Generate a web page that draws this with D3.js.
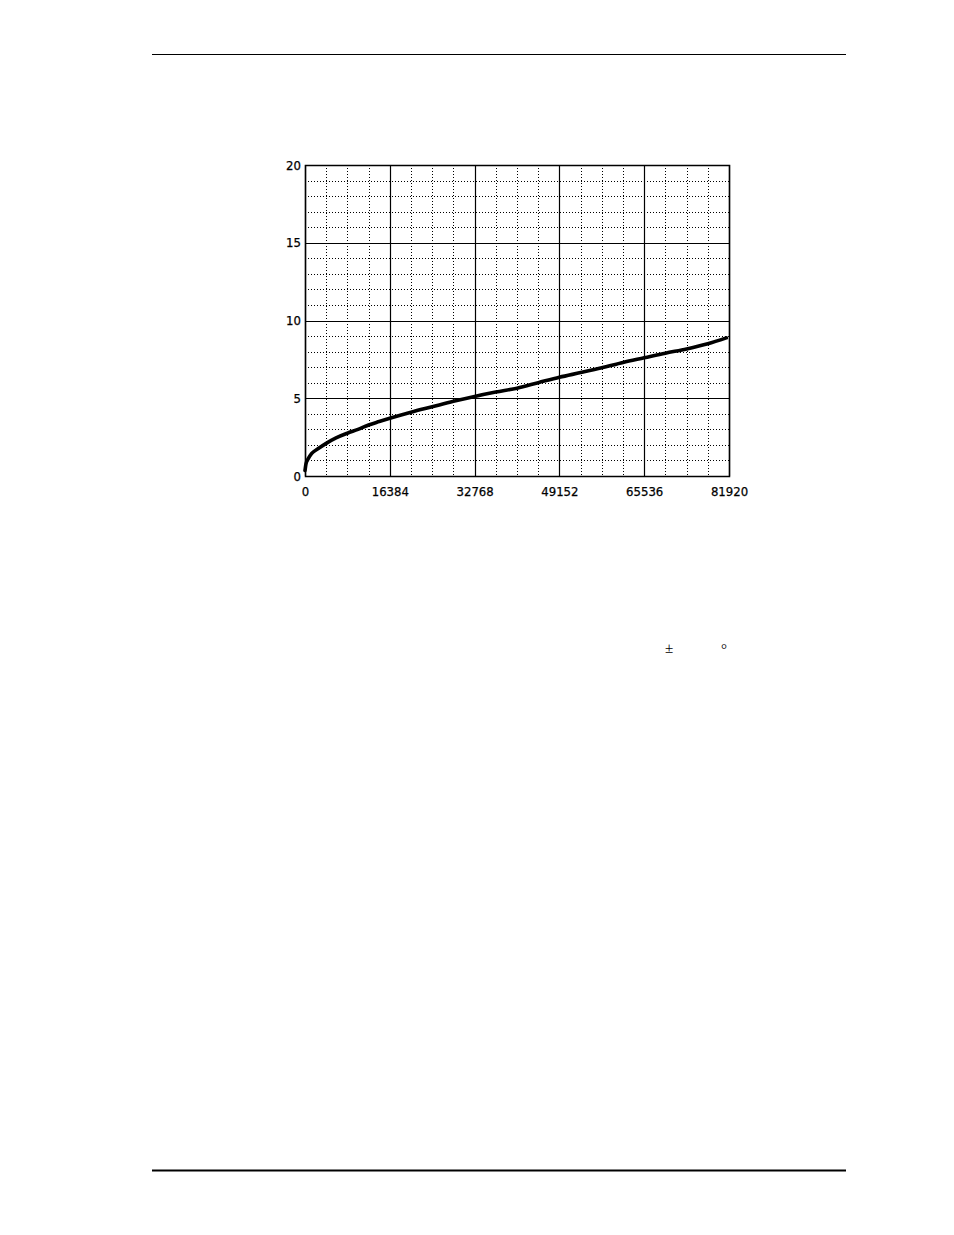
<!DOCTYPE html>
<html>
<head>
<meta charset="utf-8">
<script src="https://cdn.jsdelivr.net/npm/d3@7"></script>
<style>
  body { margin: 0; background: #fff; }
  .tick text { font-family: "DejaVu Sans Condensed", "Liberation Sans Narrow", sans-serif; font-size: 13px; fill: #000; stroke: #000; stroke-width: 0.25px; }
</style>
</head>
<body>
<div id="area"></div>
<script>
const xMajor = [0, 16384, 32768, 49152, 65536, 81920]
const yMajor = [0, 5, 10, 15, 20]
const xMinorStep = 4096
const yMinorStep = 1

const sampleX = [0, 200, 600, 1300, 2500, 4096, 6000, 8192, 10240, 12288, 14336, 16384,
  20480, 24576, 28672, 32768, 36864, 40960, 45056, 49152, 53248, 57344, 61440,
  65536, 69632, 73728, 77824, 81400]
const sampleY = [0.35, 0.8, 1.1, 1.45, 1.75, 2.1, 2.45, 2.75, 3.0, 3.28, 3.5, 3.71,
  4.1, 4.45, 4.8, 5.12, 5.4, 5.65, 6.0, 6.35, 6.65, 6.96, 7.3,
  7.6, 7.9, 8.17, 8.5, 8.88]

const svg = d3.select("#area")
  .append("svg")
  .attr("width", 954)
  .attr("height", 1235)

// page rules (header / footer)
svg.append("line").attr("x1", 152).attr("x2", 846).attr("y1", 54.5).attr("y2", 54.5)
  .attr("stroke", "#000").attr("stroke-width", 1.2)
svg.append("line").attr("x1", 152).attr("x2", 846).attr("y1", 1170.5).attr("y2", 1170.5)
  .attr("stroke", "#000").attr("stroke-width", 2)

const pLeft = 305, pRight = 729, pTop = 165, pBottom = 476

const x = d3.scaleLinear().domain([0, 81920]).range([pLeft, pRight])
const y = d3.scaleLinear().domain([0, 20]).range([pBottom, pTop])

const g = svg.append("g")

// minor dotted grid
const xMinor = d3.range(0, 81920, xMinorStep).filter(v => !xMajor.includes(v))
const yMinor = d3.range(0, 20, yMinorStep).filter(v => !yMajor.includes(v))

g.selectAll(".vminor").data(xMinor).join("line")
  .attr("x1", d => Math.round(x(d)) + 0.5).attr("x2", d => Math.round(x(d)) + 0.5)
  .attr("y1", pTop).attr("y2", pBottom)
  .attr("stroke", "#000").attr("stroke-width", 1).attr("stroke-dasharray", "1,2")
g.selectAll(".hminor").data(yMinor).join("line")
  .attr("x1", pLeft).attr("x2", pRight)
  .attr("y1", d => Math.round(y(d)) + 0.5).attr("y2", d => Math.round(y(d)) + 0.5)
  .attr("stroke", "#000").attr("stroke-width", 1).attr("stroke-dasharray", "1,2")

// major solid grid
g.selectAll(".vmajor").data(xMajor).join("line")
  .attr("x1", d => Math.round(x(d)) + 0.5).attr("x2", d => Math.round(x(d)) + 0.5)
  .attr("y1", pTop).attr("y2", pBottom)
  .attr("stroke", "#000").attr("stroke-width", 1.2)
g.selectAll(".hmajor").data(yMajor).join("line")
  .attr("x1", pLeft).attr("x2", pRight)
  .attr("y1", d => Math.round(y(d)) + 0.5).attr("y2", d => Math.round(y(d)) + 0.5)
  .attr("stroke", "#000").attr("stroke-width", 1.2)

// frame
g.append("rect").attr("x", pLeft + 0.5).attr("y", pTop + 0.5)
  .attr("width", pRight - pLeft).attr("height", pBottom - pTop)
  .attr("fill", "none").attr("stroke", "#000").attr("stroke-width", 1.5)

// axes (labels only)
const xAxis = svg.append("g").attr("transform", `translate(0,${pBottom})`)
  .call(d3.axisBottom(x).tickValues(xMajor).tickSize(0).tickPadding(11).tickFormat(d3.format("d")))
xAxis.select(".domain").remove()

const yAxis = svg.append("g").attr("transform", `translate(${pLeft},0)`)
  .call(d3.axisLeft(y).tickValues(yMajor).tickSize(0).tickPadding(4))
yAxis.select(".domain").remove()

// the measured curve
const pts = sampleX.map((v, i) => [v, sampleY[i]])
g.append("path").datum(pts)
  .attr("fill", "none").attr("stroke", "#000").attr("stroke-width", 3.6)
  .attr("stroke-linecap", "round").attr("stroke-linejoin", "round")
  .attr("d", d3.line().x(d => x(d[0])).y(d => y(d[1])).curve(d3.curveMonotoneX))

// stray glyphs left from the page text
svg.append("text").attr("x", 669).attr("y", 653).attr("text-anchor", "middle")
  .style("font-family", "Liberation Serif, serif").style("font-size", "15px").text("±")
svg.append("text").attr("x", 724).attr("y", 654).attr("text-anchor", "middle")
  .style("font-family", "Liberation Serif, serif").style("font-size", "15px").text("°")
</script>
</body>
</html>
